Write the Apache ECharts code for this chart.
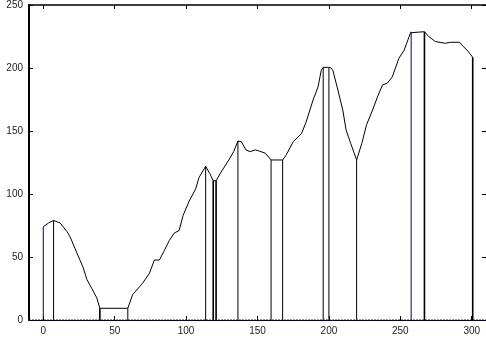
<!DOCTYPE html>
<html>
<head>
<meta charset="utf-8">
<script src="https://cdn.jsdelivr.net/npm/echarts@6/dist/echarts.min.js"></script>
<style>
  html, body { margin: 0; padding: 0; background: #fff; }
  #chart { width: 486px; height: 339px; }
</style>
</head>
<body>
<div id="chart"></div>
<script>
// profile curve
const curveX = [0, 1.4, 3.7, 7.2, 11.8, 16.7, 18.8, 23.6, 27.8, 30.6, 34, 37.5, 39.6, 59.2,
  62.5, 69.4, 74.3, 77.8, 81.3, 84.7, 88.2, 91.7, 95.1, 97.9, 102, 106.7, 109, 113.7,
  116.7, 119, 121, 124, 129.9, 133.3, 136.3, 138.7, 141.9, 144.9, 148.4, 151.4, 155.3,
  159.5, 167.6, 170.1, 175, 180.8, 184, 188.9, 192.4, 194.6, 196, 200, 201.6, 202.8,
  206.3, 209.7, 212, 215.3, 219.4, 223, 226.4, 230.6, 234, 237.5, 240.9, 244.4, 249,
  252.6, 257.2, 257.6, 266.9, 269.9, 274.5, 281.5, 285, 291.5, 294.2, 297.6, 300.7];
const curveY = [74, 74.5, 77, 79, 77, 70, 66, 53, 42, 32, 25, 17.5, 9.3, 9.3,
  20, 29, 37, 47.6, 47.6, 55, 63, 69, 71, 83, 94, 104, 113, 122,
  116, 110.5, 110.5, 116.5, 127, 133.6, 142, 141.5, 135, 133.6, 135, 134, 132.5,
  127, 127, 131, 141.5, 148, 157, 174.6, 185, 198, 200.5, 200.5, 200, 198,
  182.5, 166.7, 151, 140, 127, 140, 155, 166.7, 177, 186.5, 188, 193, 207.7,
  214, 228, 228.8, 228.8, 225, 221, 219.6, 220.4, 220.4, 217, 213, 208.5];

// vertical stems from 0 up to the curve
const stemX = [0, 7.2, 39.6, 59.2, 113.7, 119, 121, 136.3, 159.5, 167.6, 196, 200, 219.4, 257.6, 266.9, 300.7];
const stemY = [74, 79, 9.3, 9.3, 122, 110.5, 110.5, 142, 127, 127, 200.5, 200.5, 127, 228.8, 228.8, 208.5];

const xTicks = [0, 50, 100, 150, 200, 250, 300];

const blueStems = [0, 13];
const thickStems = [2, 5, 6, 14, 15];

const font = '"Liberation Sans", Arial, sans-serif';

const chart = echarts.init(document.getElementById('chart'), null, { renderer: 'canvas' });

const series = [];
stemX.forEach((x, i) => {
  series.push({
    type: 'line',
    data: [[x, 0], [x, stemY[i]]],
    symbol: 'none',
    silent: true,
    animation: false,
    z: 2,
    lineStyle: {
      color: blueStems.includes(i) ? '#00007a' : '#000',
      width: thickStems.includes(i) ? 1.6 : 1
    }
  });
});
series.push({
  type: 'line',
  data: curveX.map((x, i) => [x, curveY[i]]),
  symbol: 'none',
  silent: true,
  animation: false,
  z: 3,
  lineStyle: { color: '#000', width: 1 }
});
// baseline at y = 0
series.push({
  type: 'line',
  data: [[-10, 0], [310, 0]],
  symbol: 'none',
  silent: true,
  animation: false,
  z: 4,
  lineStyle: { color: '#1a1aa0', width: 1, type: [2, 1] }
});

chart.setOption({
  animation: false,
  backgroundColor: '#fff',
  grid: { left: 29, right: -3, top: 5, bottom: 19, containLabel: false },
  xAxis: [
    {
      type: 'value',
      min: -10,
      max: 310,
      position: 'bottom',
      splitLine: { show: false },
      axisLine: { show: true, onZero: false, lineStyle: { color: '#000', width: 1 } },
      axisTick: { show: true, inside: true, length: 4, customValues: xTicks, lineStyle: { color: '#000' } },
      axisLabel: { customValues: xTicks, color: '#222', fontSize: 10, fontFamily: font, margin: 6 }
    },
    {
      type: 'value',
      min: -10,
      max: 310,
      position: 'top',
      splitLine: { show: false },
      axisLine: { show: true, onZero: false, lineStyle: { color: '#000', width: 1.5 } },
      axisTick: { show: true, inside: true, length: 4, customValues: xTicks, lineStyle: { color: '#000' } },
      axisLabel: { show: false }
    }
  ],
  yAxis: [
    {
      type: 'value',
      min: 0,
      max: 250,
      interval: 50,
      position: 'left',
      splitLine: { show: false },
      axisLine: { show: true, onZero: false, lineStyle: { color: '#000', width: 2 } },
      axisTick: { show: true, inside: true, length: 4, lineStyle: { color: '#000' } },
      axisLabel: { color: '#222', fontSize: 10, fontFamily: font, margin: 6 }
    },
    {
      type: 'value',
      min: 0,
      max: 250,
      interval: 50,
      position: 'right',
      splitLine: { show: false },
      axisLine: { show: true, onZero: false, lineStyle: { color: '#000', width: 1 } },
      axisTick: { show: true, inside: true, length: 4, lineStyle: { color: '#000' } },
      axisLabel: { show: false }
    }
  ],
  series: series
});
</script>
</body>
</html>
